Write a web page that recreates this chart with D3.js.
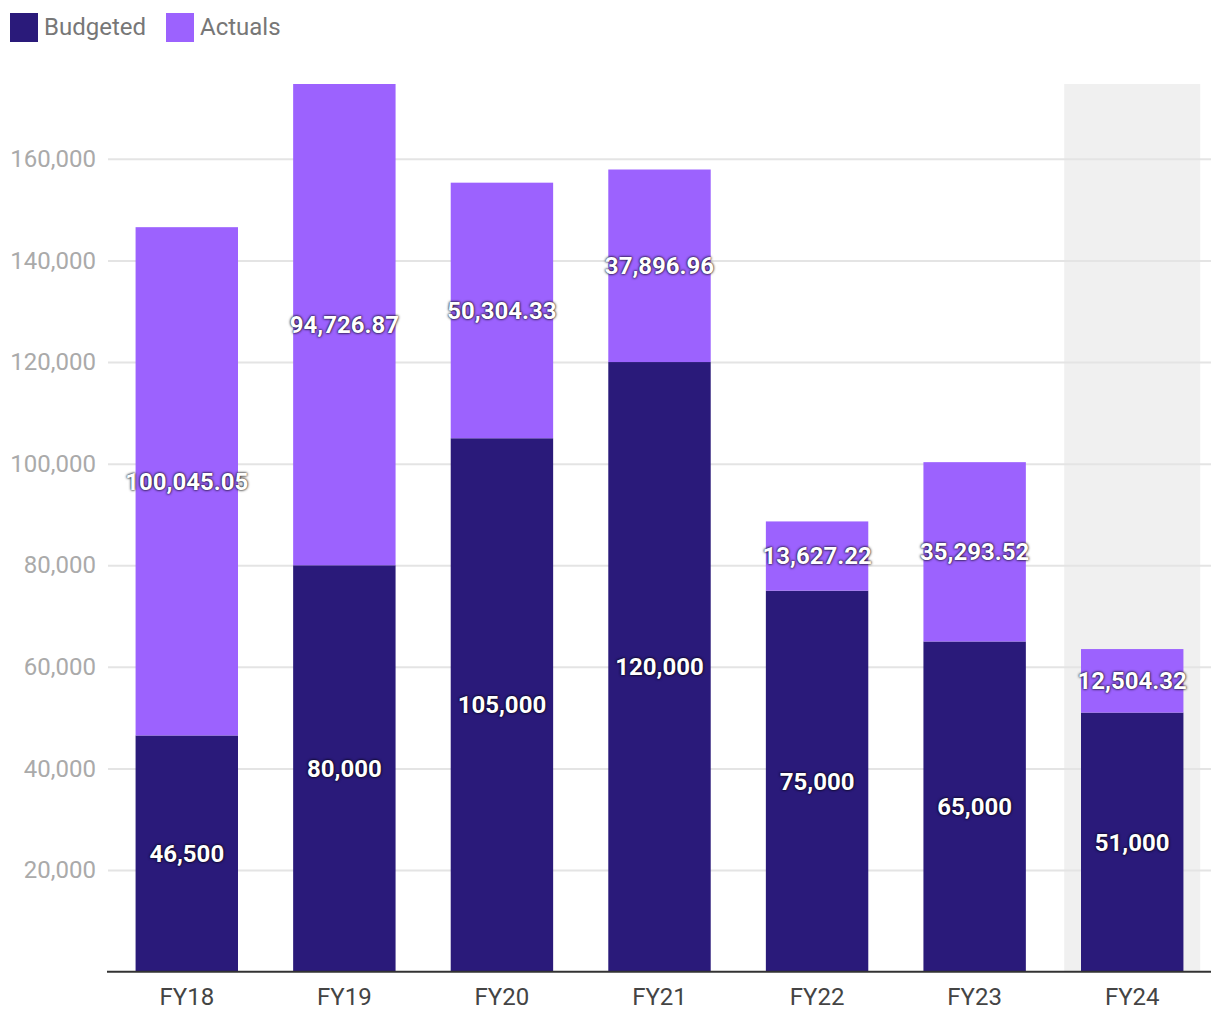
<!DOCTYPE html>
<html><head><meta charset="utf-8">
<script src="https://cdn.jsdelivr.net/npm/d3@7"></script>
<style>
body{margin:0;background:#fff;}
text{font-family:Roboto,"Noto Sans",sans-serif;}
.lbl{font-weight:700;fill:#fff;text-shadow:0 0 3px rgba(0,0,0,0.9),0 0 2px rgba(0,0,0,0.7);}
</style>
</head><body>
<svg id="c" width="1220" height="1020"></svg>
<script>
const categories = ["FY18","FY19","FY20","FY21","FY22","FY23","FY24"];
const budgeted = [46500, 80000, 105000, 120000, 75000, 65000, 51000];
const actuals = [100045.05, 94726.87, 50304.33, 37896.96, 13627.22, 35293.52, 12504.32];
const yTicks = [20000,40000,60000,80000,100000,120000,140000,160000];
const seriesNames = ["Budgeted","Actuals"];
const colors = ["#2a1a7a","#9c62fe"];
const highlighted = ["FY24"];

const svg = d3.select("#c");
const m = {l:108, r:9, t:84, b:48};
const W = 1220, H = 1020;
const totals = categories.map((c,i)=>budgeted[i]+actuals[i]);
const x = d3.scaleBand().domain(categories).range([m.l, W-m.r]).paddingInner(0.35).paddingOuter(0.175);
const y = d3.scaleLinear().domain([0, d3.max(totals)]).range([H-m.b-0.3, m.t]);

// highlight
svg.append("g").selectAll("rect").data(highlighted).join("rect")
  .attr("x", d=>x(d)+x.bandwidth()/2-68).attr("width",136)
  .attr("y", m.t).attr("height", y(0)-m.t).attr("fill","#f0f0f0");

// grid
const yAxis = d3.axisLeft(y).tickValues(yTicks).tickSize(-(W-m.r-m.l)).tickPadding(12).tickFormat(d3.format(","));
const ga = svg.append("g").attr("transform",`translate(${m.l},0)`).call(yAxis);
ga.select(".domain").remove();
ga.selectAll(".tick line").attr("stroke","#e4e4e4").attr("stroke-width",2);
ga.selectAll(".tick text").attr("fill","#aaaaaa").style("font-size","24px").attr("x",-12);

// bars
const stackData = categories.map((c,i)=>({cat:c, Budgeted:budgeted[i], Actuals:actuals[i]}));
const stack = d3.stack().keys(seriesNames)(stackData);
const fmt = d3.format(",");
const fmt2 = d3.format(",.2f");
stack.forEach((s,si)=>{
  svg.append("g").selectAll("rect").data(s).join("rect")
    .attr("x", d=>x(d.data.cat)).attr("width", x.bandwidth())
    .attr("y", d=>y(d[1])).attr("height", d=>y(d[0])-y(d[1]))
    .attr("fill", colors[si]);
});
stack.forEach((s,si)=>{
  svg.append("g").selectAll("text").data(s).join("text").attr("class","lbl")
    .attr("x", d=>x(d.data.cat)+x.bandwidth()/2)
    .attr("y", d=>y((d[0]+d[1])/2))
    .attr("text-anchor","middle").attr("dy","0.35em")
    .style("font-size","24px")
    .text(d=>si===0? fmt(d.data.Budgeted) : fmt2(d.data.Actuals));
});

// x axis
const xa = svg.append("g").attr("transform",`translate(0,${y(0)})`)
  .call(d3.axisBottom(x).tickSize(0).tickPadding(16));
xa.select(".domain").attr("stroke","#333").attr("stroke-width",2).attr("d",`M${m.l-1},0H${W-m.r}`);
xa.selectAll(".tick text").attr("fill","#444").style("font-size","24px");

// legend
const lg = svg.append("g");
const legX = [10,166];
seriesNames.forEach((n,i)=>{
  lg.append("rect").attr("x",legX[i]).attr("y",13).attr("width",28).attr("height",29).attr("fill",colors[i]);
  lg.append("text").attr("x",legX[i]+34).attr("y",35).attr("fill","#777").style("font-size","24px").text(n);
});
</script>
</body></html>
